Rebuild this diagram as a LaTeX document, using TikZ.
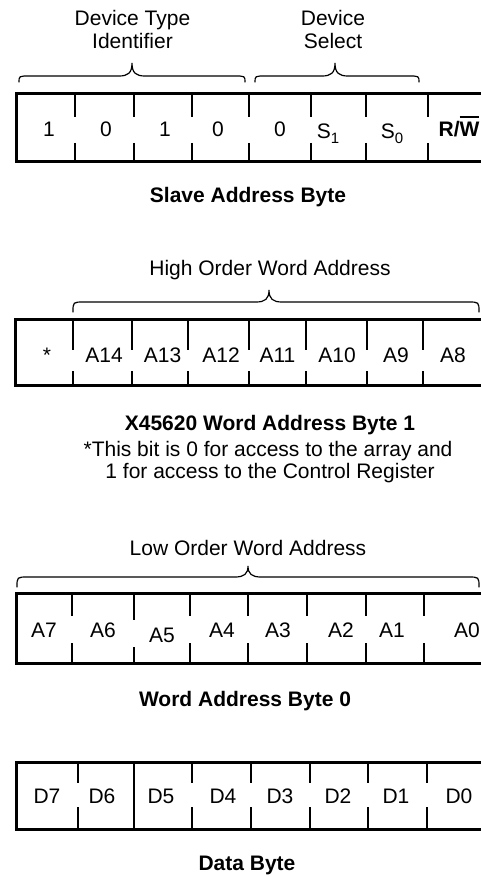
\documentclass[tikz,border=0pt]{standalone}
\usepackage{fontspec}
\setmainfont{Liberation Sans}
\newcommand\bracedraw[6]{% x1 x2 xtip yend yflat ytip
  \draw[bracepath] (#1,#4) .. controls (#1,#5) .. (#1+11,#5) -- (#3-13,#5)
    .. controls (#3-4,#5) and (#3,#5-3) .. (#3,#6)
    .. controls (#3,#5-3) and (#3+4,#5) .. (#3+13,#5) -- (#2-11,#5)
    .. controls (#2,#5) .. (#2,#4);}
\begin{document}
\begin{tikzpicture}[x=1pt,y=-1pt,
  lbl/.style={font=\fontsize{21}{23}\selectfont, inner sep=0pt, anchor=base},
  captxt/.style={font=\fontsize{21}{23}\selectfont\bfseries, inner sep=0pt, anchor=base},
  frame/.style={line width=3pt},
  divider/.style={line width=2pt},
  bracepath/.style={line width=1.2pt, line cap=round}]
\useasboundingbox[fill=white] (0,0) rectangle (480,877);

% ---------- Slave Address Byte ----------
\node[lbl] (dt1) at (132.5,25.5) {Device Type};
\node[lbl] (dt2) at (132.5,48.5) {Identifier};
\node[lbl] (ds1) at (333,25.5) {Device};
\node[lbl] (ds2) at (333,48.5) {Select};
\bracedraw{19}{245}{132}{82}{76}{63}
\bracedraw{255}{419}{335}{82}{76}{63}
\draw[frame] (484,93.5) -- (16.5,93.5) -- (16.5,161.5) -- (484,161.5);
\foreach \x in {75,134,192,249,311,366,428}{
  \draw[divider] (\x,93.5) -- (\x,117);
  \draw[divider] (\x,143) -- (\x,161.5);}
\node[lbl] (s7) at (49,137) {1};
\node[lbl] (s6) at (106,137) {0};
\node[lbl] (s5) at (165,137) {1};
\node[lbl] (s4) at (218,137) {0};
\node[lbl] (s3) at (280,137) {0};
\node[lbl] (s2) at (328,139) {S\raisebox{-5pt}{\fontsize{15}{15}\selectfont 1}};
\node[lbl] (s1) at (392,139) {S\raisebox{-5pt}{\fontsize{15}{15}\selectfont 0}};
\node[captxt] (s0) at (459,137) {R/\makebox[0pt][l]{\rule[19pt]{19.8pt}{1.8pt}}W};
\node[captxt] (c1) at (248,203) {Slave Address Byte};

% ---------- Word Address Byte 1 ----------
\node[lbl] (ho) at (270,275) {High Order Word Address};
\bracedraw{73}{479}{269}{312}{302}{290}
\draw[frame] (484,319.5) -- (15.5,319.5) -- (15.5,385.5) -- (484,385.5);
\foreach \x in {73.3,132.3,188.3,249.3,306,366.7,423.3}{
  \draw[divider] (\x,319.5) -- (\x,350);
  \draw[divider] (\x,371) -- (\x,385.5);}
\node[lbl] (h7) at (47,362) {*};
\node[lbl] (h6) at (104,362) {A14};
\node[lbl] (h5) at (162.5,362) {A13};
\node[lbl] (h4) at (221,362) {A12};
\node[lbl] (h3) at (277.5,362) {A11};
\node[lbl] (h2) at (337,362) {A10};
\node[lbl] (h1) at (396,362) {A9};
\node[lbl] (h0) at (453,362) {A8};
\node[captxt] (c2) at (270,430) {X45620 Word Address Byte 1};
\node[lbl] (n1) at (268,456) {*This bit is 0 for access to the array and};
\node[lbl] (n2) at (270,478) {1 for access to the Control Register};

% ---------- Word Address Byte 0 ----------
\node[lbl] (lo) at (248,555) {Low Order Word Address};
\bracedraw{17}{479}{248}{587}{577}{566}
\draw[frame] (484,593.5) -- (16.5,593.5) -- (16.5,663.5) -- (484,663.5);
\foreach \x in {72,190,248,307,366,424}{
  \draw[divider] (\x,593.5) -- (\x,616);
  \draw[divider] (\x,643) -- (\x,663.5);}
\draw[divider] (134,593.5) -- (134,620);
\draw[divider] (134,647) -- (134,663.5);
\node[lbl] (l7) at (44,637) {A7};
\node[lbl] (l6) at (103,637) {A6};
\node[lbl] (l5) at (162,642) {A5};
\node[lbl] (l4) at (222,637) {A4};
\node[lbl] (l3) at (278,637) {A3};
\node[lbl] (l2) at (341,637) {A2};
\node[lbl] (l1) at (392,637) {A1};
\node[lbl] (l0) at (467,637) {A0};
\node[captxt] (c3) at (245,706) {Word Address Byte 0};

% ---------- Data Byte ----------
\draw[frame] (484,762) -- (16.5,762) -- (16.5,829) -- (484,829);
\foreach \x in {78,192,251,310,368,427}{
  \draw[divider] (\x,762) -- (\x,783);
  \draw[divider] (\x,807) -- (\x,829);}
\draw[divider] (134,762) -- (134,829);
\node[lbl] (d7) at (47,803) {D7};
\node[lbl] (d6) at (102,803) {D6};
\node[lbl] (d5) at (161,803) {D5};
\node[lbl] (d4) at (223,803) {D4};
\node[lbl] (d3) at (280,803) {D3};
\node[lbl] (d2) at (338,803) {D2};
\node[lbl] (d1) at (396,803) {D1};
\node[lbl] (d0) at (459,803) {D0};
\node[captxt] (c4) at (247,870) {Data Byte};
\end{tikzpicture}
\end{document}
